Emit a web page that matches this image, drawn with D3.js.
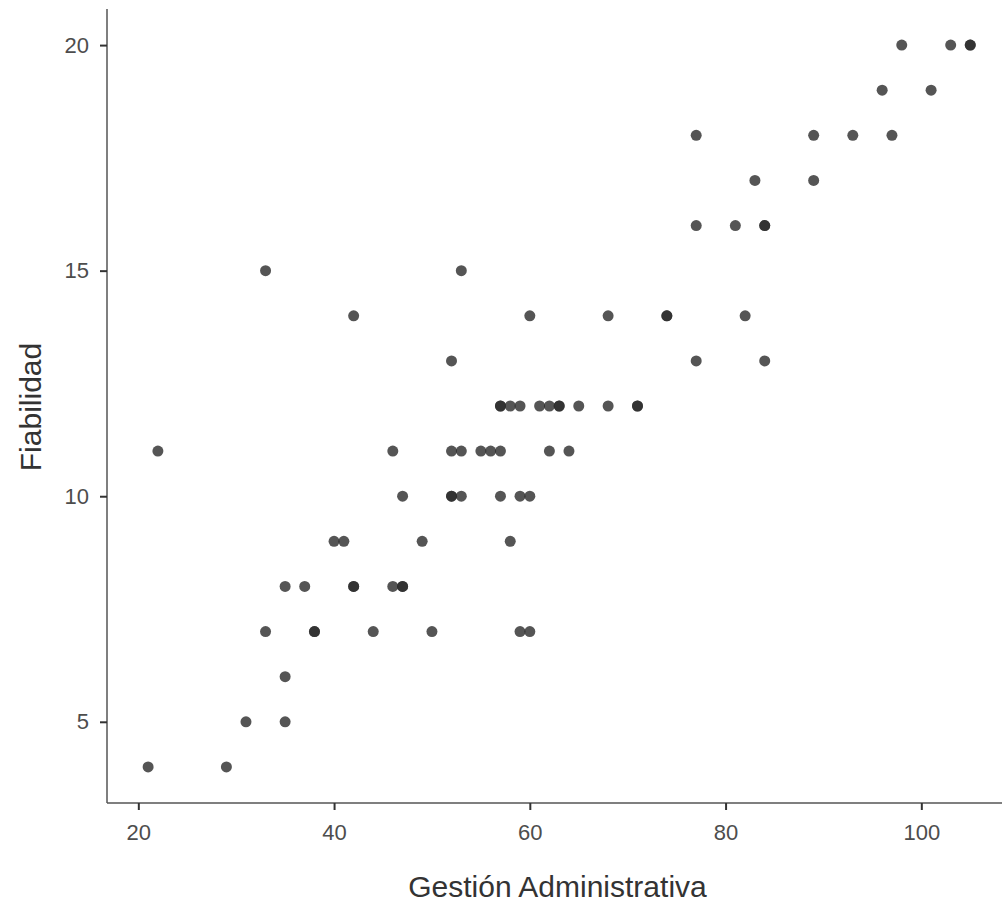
<!DOCTYPE html>
<html>
  <head>
    <meta charset="utf-8" />
    <title>Fiabilidad vs Gestión Administrativa</title>
    <script src="https://d3js.org/d3.v7.min.js"></script>
    <style>
      body {
        margin: 0;
        background: #fff;
      }
      text {
        font-family: "Liberation Sans", Arial, sans-serif;
      }
    </style>
  </head>
  <body>
    <svg id="scatter">
      <g id="points"></g>
      <g id="x"></g>
      <g id="y"></g>
    </svg>

    <script>

      // Gestión Administrativa (x) and Fiabilidad (y), one entry per respondent
      var gestion = [
        98, 103, 105, 105,
        96, 101,
        77, 89, 93, 97,
        83, 89,
        77, 81, 84, 84,
        33, 53,
        42, 60, 68, 74, 74, 82,
        52, 77, 84,
        57, 57, 58, 59, 61, 62, 63, 63, 65, 68, 71, 71,
        22, 46, 52, 53, 55, 56, 57, 62, 64,
        47, 52, 52, 53, 57, 59, 60,
        40, 41, 49, 58,
        35, 37, 42, 42, 46, 47, 47,
        33, 38, 38, 44, 50, 59, 60,
        35,
        31, 35,
        21, 29
      ];
      var fiabilidad = [
        20, 20, 20, 20,
        19, 19,
        18, 18, 18, 18,
        17, 17,
        16, 16, 16, 16,
        15, 15,
        14, 14, 14, 14, 14, 14,
        13, 13, 13,
        12, 12, 12, 12, 12, 12, 12, 12, 12, 12, 12, 12,
        11, 11, 11, 11, 11, 11, 11, 11, 11,
        10, 10, 10, 10, 10, 10, 10,
        9, 9, 9, 9,
        8, 8, 8, 8, 8, 8, 8,
        7, 7, 7, 7, 7, 7, 7,
        6,
        5, 5,
        4, 4
      ];
      var xTicks = [20, 40, 60, 80, 100];
      var yTicks = [5, 10, 15, 20];

      var width = 1002;
      var height = 907;
      var margin = { top: 9, right: 0, bottom: 104, left: 107 };

      var svg = d3.select("#scatter")
        .attr("width", width)
        .attr("height", height);

      var data = gestion.map(function(g, i) {
        return { x: g, y: fiabilidad[i] };
      });

      // ggplot-like 5% expansion on both axes
      var x = d3.scaleLinear()
        .domain([16.8, 109.2])
        .range([margin.left, margin.left + 92.4 * 9.7875]);

      var y = d3.scaleLinear()
        .domain([3.2, 20.8])
        .range([height - margin.bottom, margin.top]);

      svg.select("#points").selectAll("circle")
        .data(data)
        .enter().append("circle")
        .attr("cx", function(d) { return x(d.x); })
        .attr("cy", function(d) { return y(d.y); })
        .attr("r", 5.5)
        .attr("fill", "#2b2b2b")
        .attr("fill-opacity", 0.8);

      var xAxis = d3.axisBottom(x)
        .tickValues(xTicks)
        .tickSize(7)
        .tickPadding(14);

      svg.select("#x")
        .attr("transform", "translate(0," + (height - margin.bottom) + ")")
        .call(xAxis);

      var yAxis = d3.axisLeft(y)
        .tickValues(yTicks)
        .tickSize(7)
        .tickPadding(11);

      svg.select("#y")
        .attr("transform", "translate(" + margin.left + ",0)")
        .call(yAxis);

      svg.selectAll("#x .domain, #y .domain")
        .attr("stroke", "#555")
        .attr("stroke-width", 1.5);
      svg.select("#x .domain").attr("d", "M" + margin.left + ",0H" + width);
      svg.select("#y .domain").attr("d", "M0," + margin.top + "V" + (height - margin.bottom));

      svg.selectAll(".tick line")
        .attr("stroke", "#333")
        .attr("stroke-width", 2);

      svg.selectAll(".tick text")
        .attr("font-size", "22px")
        .attr("fill", "#4d4d4d");

      svg.append("text")
        .attr("x", (margin.left + width) / 2 + 3)
        .attr("y", 897)
        .attr("text-anchor", "middle")
        .attr("font-size", "30px")
        .attr("fill", "#333")
        .text("Gestión Administrativa");

      svg.append("text")
        .attr("transform", "translate(41," + ((margin.top + height - margin.bottom) / 2 + 1) + ") rotate(-90)")
        .attr("text-anchor", "middle")
        .attr("font-size", "30px")
        .attr("fill", "#333")
        .text("Fiabilidad");

    </script>
  </body>
</html>
